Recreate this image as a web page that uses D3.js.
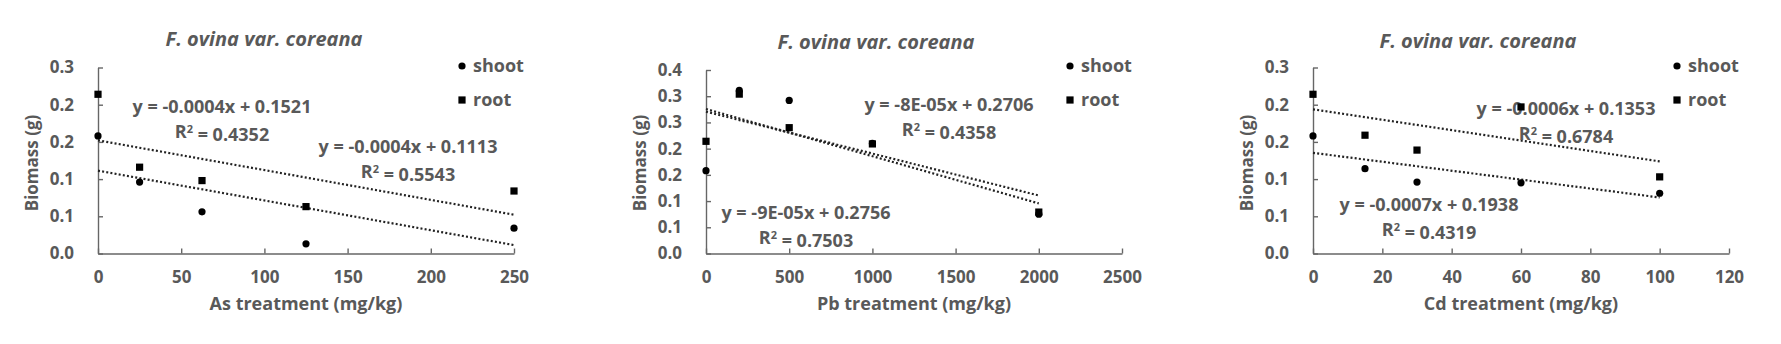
<!DOCTYPE html>
<html>
<head>
<meta charset="utf-8">
<script src="https://cdn.jsdelivr.net/npm/d3@7"></script>
<style>
  body { margin: 0; background: #fff; }
  text { font-family: "Open Sans", sans-serif; fill: #595959; font-weight: 700; }
  .domain, .tick line { stroke: #666; stroke-width: 1.4; }
</style>
</head>
<body>
<div id="chart"></div>
<script>
const W = 1781;
const H = 344;

// biomass (g) per treatment dose (mg/kg)
const asDose = [0, 25, 62.5, 125, 250];
const asShoot = [0.158, 0.096, 0.056, 0.013, 0.034];
const asRoot = [0.214, 0.116, 0.098, 0.063, 0.084];

const pbDose = [0, 200, 500, 1000, 2000];
const pbShoot = [0.158, 0.311, 0.292, 0.210, 0.075];
const pbRoot = [0.214, 0.304, 0.240, 0.209, 0.079];

const cdDose = [0, 15, 30, 60, 100];
const cdShoot = [0.158, 0.114, 0.096, 0.095, 0.081];
const cdRoot = [0.214, 0.159, 0.139, 0.197, 0.103];

// linear trend lines: [slope, intercept, R²] as printed
const asShootFit = ["-0.0004", "0.1113", "0.5543"];
const asRootFit = ["-0.0004", "0.1521", "0.4352"];
const pbShootFit = ["-8E-05", "0.2706", "0.4358"];
const pbRootFit = ["-9E-05", "0.2756", "0.7503"];
const cdShootFit = ["-0.0006", "0.1353", "0.6784"];
const cdRootFit = ["-0.0007", "0.1938", "0.4319"];

// axis ticks
const asTicks = [0, 50, 100, 150, 200, 250];
const pbTicks = [0, 500, 1000, 1500, 2000, 2500];
const cdTicks = [0, 20, 40, 60, 80, 100, 120];
const biomassTicks25 = [0, 0.05, 0.1, 0.15, 0.2, 0.25];
const biomassTicks35 = [0, 0.05, 0.1, 0.15, 0.2, 0.25, 0.3, 0.35];

const title = "F. ovina var. coreana";

const panels = [
  {
    dose: asDose, shoot: asShoot, root: asRoot,
    shootFit: asShootFit, rootFit: asRootFit,
    xTicks: asTicks, yTicks: biomassTicks25, yTop: 67.5, xLabel: "As treatment (mg/kg)",
    x0: 98, titleX: 264, titleY: 39,
    shootEq: [408, 147], rootEq: [222, 107]
  },
  {
    dose: pbDose, shoot: pbShoot, root: pbRoot,
    shootFit: pbShootFit, rootFit: pbRootFit,
    xTicks: pbTicks, yTicks: biomassTicks35, yTop: 70, xLabel: "Pb treatment (mg/kg)",
    x0: 706, titleX: 876, titleY: 42,
    shootEq: [949, 105], rootEq: [806, 213]
  },
  {
    dose: cdDose, shoot: cdShoot, root: cdRoot,
    shootFit: cdShootFit, rootFit: cdRootFit,
    xTicks: cdTicks, yTicks: biomassTicks25, yTop: 67.5, xLabel: "Cd treatment (mg/kg)",
    x0: 1313, titleX: 1478, titleY: 41,
    shootEq: [1566, 109], rootEq: [1429, 205]
  }
];

const plotW = 416;
const yBottom = 253.5;
const mk = 3.6;

// one decimal, halves rounded up
const fmt = v => d3.format(".1f")(v + 1e-9);

const svg = d3.select("#chart").append("svg")
  .attr("width", W)
  .attr("height", H);

panels.forEach(p => {
  const x = d3.scaleLinear()
    .domain(d3.extent(p.xTicks))
    .range([p.x0, p.x0 + plotW]);
  const y = d3.scaleLinear()
    .domain([0, d3.max(p.yTicks)])
    .range([yBottom, p.yTop]);

  const g = svg.append("g");

  g.append("g")
    .attr("transform", `translate(0,${yBottom})`)
    .call(d3.axisBottom(x).tickValues(p.xTicks).tickFormat(d3.format("d"))
      .tickSizeInner(-5).tickSizeOuter(0).tickPadding(17))
    .call(a => a.selectAll("text").style("font-size", "17px").attr("fill", "#595959"));

  g.append("g")
    .attr("transform", `translate(${p.x0},0)`)
    .call(d3.axisLeft(y).tickValues(p.yTicks).tickFormat(fmt)
      .tickSizeInner(-5).tickSizeOuter(0).tickPadding(24))
    .call(a => a.selectAll("text").style("font-size", "17px").attr("fill", "#595959"));

  g.selectAll(".domain").attr("fill", "none");

  // titles
  g.append("text")
    .attr("x", p.titleX).attr("y", p.titleY).attr("dy", "0.35em")
    .attr("text-anchor", "middle")
    .style("font-style", "italic")
    .style("font-size", "20px")
    .text(title);

  g.append("text")
    .attr("x", p.x0 + plotW / 2).attr("y", 304).attr("dy", "0.35em")
    .attr("text-anchor", "middle")
    .style("font-size", "18px")
    .text(p.xLabel);

  g.append("text")
    .attr("transform", `translate(${p.x0 - 66},163) rotate(-90)`)
    .attr("dy", "0.35em")
    .attr("text-anchor", "middle")
    .style("font-size", "17px")
    .text("Biomass (g)");

  // dotted trend lines from x = 0 to the last dose
  [p.rootFit, p.shootFit].forEach(f => {
    const m = Number(f[0]), b = Number(f[1]);
    g.append("path")
      .datum([0, d3.max(p.dose)])
      .attr("fill", "none")
      .attr("stroke", "#222")
      .attr("stroke-width", 2.2)
      .attr("stroke-dasharray", "2,2.2")
      .attr("d", d3.line().x(d => x(d)).y(d => y(m * d + b)));
  });

  // equation labels
  [[p.rootFit, p.rootEq], [p.shootFit, p.shootEq]].forEach(([f, pos]) => {
    const t = g.append("text")
      .attr("text-anchor", "middle")
      .style("font-size", "18px");
    t.append("tspan")
      .attr("x", pos[0]).attr("y", pos[1]).attr("dy", "0.35em")
      .text(`y = ${f[0]}x + ${f[1]}`);
    const r = t.append("tspan")
      .attr("x", pos[0]).attr("y", pos[1] + 25).attr("dy", "0.35em");
    r.append("tspan").text("R");
    r.append("tspan").attr("dy", "-0.45em").style("font-size", "11px").text("2");
    r.append("tspan").attr("dy", "0.45em").text(` = ${f[2]}`);
  });

  // markers
  g.append("g").selectAll("circle")
    .data(p.dose.map((d, i) => [d, p.shoot[i]]))
    .join("circle")
    .attr("cx", d => x(d[0]))
    .attr("cy", d => y(d[1]))
    .attr("r", mk)
    .attr("fill", "#000");

  g.append("g").selectAll("rect")
    .data(p.dose.map((d, i) => [d, p.root[i]]))
    .join("rect")
    .attr("x", d => x(d[0]) - mk)
    .attr("y", d => y(d[1]) - mk)
    .attr("width", mk * 2)
    .attr("height", mk * 2)
    .attr("fill", "#000");

  // legend
  const lx = p.x0 + 364;
  g.append("circle").attr("cx", lx).attr("cy", 66).attr("r", mk).attr("fill", "#000");
  g.append("rect").attr("x", lx - mk).attr("y", 100 - mk).attr("width", mk * 2).attr("height", mk * 2).attr("fill", "#000");
  g.append("text").attr("x", lx + 11).attr("y", 66).attr("dy", "0.35em").style("font-size", "18px").text("shoot");
  g.append("text").attr("x", lx + 11).attr("y", 100).attr("dy", "0.35em").style("font-size", "18px").text("root");
});
</script>
</body>
</html>
